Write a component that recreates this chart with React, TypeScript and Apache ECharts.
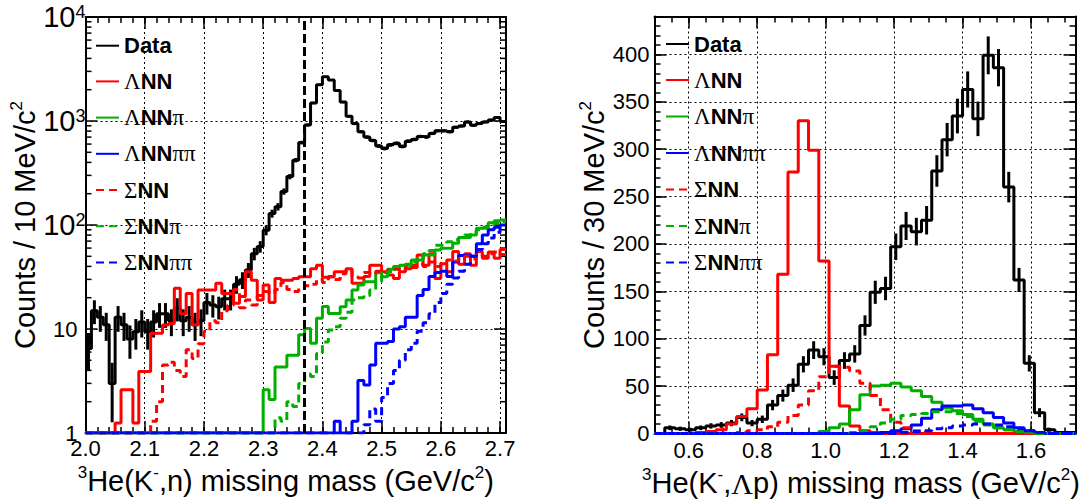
import React, { useEffect, useRef } from "react";
import * as echarts from "echarts";

// ---------- Left panel: 3He(K-,n) missing mass, 10 MeV bins 2.00 - 2.71 ----------
const leftBinStart = 2.0;
const leftBinWidth = 0.01;
const leftXMin = 2.0;
const leftXMax = 2.71;
const thresholdMass = 2.37;

const leftData = [
  6.5, 15, 13, 11, 3, 13, 11, 8, 9.4, 11.7,
  9.4, 11.7, 14, 14, 12, 15.8, 12, 13, 11, 12,
  18, 17, 16.4, 19.5, 19.5, 27, 29.7, 37, 53, 62,
  89, 129, 150, 210, 292, 420, 620, 917, 1490, 2230,
  2660, 2480, 1970, 1520, 1110, 944, 790, 700, 650, 575,
  545, 590, 610, 570, 640, 665, 710, 700, 760, 805,
  805, 790, 870, 895, 980, 910, 944, 980, 1020, 1080,
  990,
];
const leftLNN = [
  0, 0, 0, 0, 0, 1.25, 2.6, 2.6, 1.25, 3.9,
  3.9, 9.1, 9.1, 10.9, 11.3, 24.6, 14, 22, 11, 23.7,
  23.7, 23.7, 27.5, 22, 22, 17.7, 20.5, 35.5, 29.5, 19,
  26.5, 18, 30.6, 29.5, 29.5, 30.6, 31.8, 31.8, 38, 41,
  31.4, 31.8, 35.5, 35.5, 38, 27.5, 27.5, 32, 41, 41,
  35.5, 33, 30.6, 35.5, 38, 41, 51.5, 41, 53, 30.6,
  42.5, 35.5, 55.6, 42, 53, 41, 55.6, 48, 55, 48,
  58,
];
const leftSNN = [
  0, 0, 0, 0, 0, 0, 0, 0, 0, 0,
  0, 1.3, 2.0, 4.5, 4.8, 4.0, 3.5, 6.3, 5.2, 7.2,
  9.5, 12, 11.5, 15, 17, 24, 16, 19, 17, 21,
  23, 22, 24, 28, 24, 23, 25, 26, 27, 30,
  28, 32, 30, 34, 37, 32, 31, 35, 34, 36,
  35, 37, 38, 36, 40, 39, 42, 40, 44, 40,
  43, 46, 45, 48, 50, 47, 52, 50, 53, 55,
  52,
];
const leftLNNpi = [
  0, 0, 0, 0, 0, 0, 0, 0, 0, 0,
  0, 0, 0, 0, 0, 0, 0, 0, 0, 0,
  0, 0, 0, 0, 0, 0, 0, 0, 0, 0,
  2.6, 2.1, 4.3, 4.3, 5.6, 5.6, 8.8, 10.1, 7.3, 12.7,
  16.5, 14.1, 14.1, 16.4, 19, 23.7, 26.5, 28.5, 28.5, 34.8,
  31.8, 37.5, 37.5, 41, 41, 46, 46, 51.5, 51.5, 57.6,
  59.7, 59.7, 66.6, 76, 76, 80, 93, 93, 105, 110,
  112,
];
const leftSNNpi = [
  0, 0, 0, 0, 0, 0, 0, 0, 0, 0,
  0, 0, 0, 0, 0, 0, 0, 0, 0, 0,
  0, 0, 0, 0, 0, 0, 0, 0, 0, 0,
  0, 0, 1.4, 1.3, 2.0, 1.8, 3.0, 3.7, 3.5, 5.8,
  7.5, 9.8, 10.5, 12.7, 14.5, 19, 20, 21, 23.7, 28.5,
  32, 35.5, 40, 41, 42, 44, 48, 53, 57, 64,
  64, 69, 72, 76, 80, 85, 90, 95, 100, 104,
  108,
];
const leftLNNpipi = [
  0, 0, 0, 0, 0, 0, 0, 0, 0, 0,
  0, 0, 0, 0, 0, 0, 0, 0, 0, 0,
  0, 0, 0, 0, 0, 0, 0, 0, 0, 0,
  0, 0, 0, 0, 0, 0, 0, 0, 0, 0,
  0, 0, 1.3, 0, 0, 1.3, 3.2, 2.9, 4.5, 7.3,
  7.3, 7.6, 10, 10.5, 13, 13, 21, 24, 32, 35,
  36, 32, 44, 51, 51, 50, 66, 80, 90, 95,
  100,
];
const leftSNNpipi = [
  0, 0, 0, 0, 0, 0, 0, 0, 0, 0,
  0, 0, 0, 0, 0, 0, 0, 0, 0, 0,
  0, 0, 0, 0, 0, 0, 0, 0, 0, 0,
  0, 0, 0, 0, 0, 0, 0, 0, 0, 0,
  0, 0, 0, 0, 0, 0, 0, 1.2, 1.7, 1.3,
  2.2, 3.0, 4.0, 5.0, 6.3, 7.3, 9.5, 11.5, 14, 18,
  22, 27, 31, 36, 42, 50, 58, 66, 75, 85,
  95,
];

// ---------- Right panel: 3He(K-,Λp) missing mass, 30 MeV bins 0.50 - 1.73 ----------
const rightBinStart = 0.5;
const rightBinWidth = 0.03;
const rightXMin = 0.5;
const rightXMax = 1.73;
const rightYMax = 440;

const rightData = [
  0, 6, 5, 4, 6, 8, 9, 11, 17, 11,
  15, 30, 40, 51, 73, 88, 81, 59, 77, 84,
  114, 149, 153, 197, 219, 213, 225, 277, 310, 335,
  363, 332, 399, 386, 260, 162, 74, 22, 4, 1,
  1,
];
const rightLNN = [
  0, 0, 0, 0, 1, 2, 4, 10, 18, 26,
  46, 83, 168, 276, 330, 299, 182, 71, 29, 8,
  3, 1, 0, 0, 0, 0, 0, 0, 0, 0,
  0, 0, 0, 0, 0, 0, 0, 0, 0, 0,
  0,
];
const rightSNN = [
  0, 0, 0, 0, 0, 0, 0, 0, 1, 3,
  4, 7, 12, 19, 30, 45, 60, 71, 70, 66,
  53, 40, 25, 12, 6, 3, 1, 0, 0, 0,
  0, 0, 0, 0, 0, 0, 0, 0, 0, 0,
  0,
];
const rightLNNpi = [
  0, 0, 0, 0, 0, 0, 0, 0, 0, 0,
  0, 0, 0, 0, 0, 0, 2, 6, 10, 25,
  41, 50, 51, 53, 49, 45, 39, 33, 27, 24,
  20, 15, 10, 6, 4, 2, 1, 0, 0, 0,
  0,
];
const rightSNNpi = [
  0, 0, 0, 0, 0, 0, 0, 0, 0, 0,
  0, 0, 0, 0, 0, 0, 0, 0, 0, 1,
  3, 7, 11, 15, 19, 20, 21, 23, 23, 21,
  18, 13, 9, 6, 4, 2, 1, 0, 0, 0,
  0,
];
const rightLNNpipi = [
  0, 0, 0, 0, 0, 0, 0, 0, 0, 0,
  0, 0, 0, 0, 0, 0, 0, 0, 0, 0,
  0, 0, 1, 3, 5, 9, 16, 25, 29, 29,
  30, 26, 22, 17, 11, 6, 3, 1, 0, 0,
  0,
];
const rightSNNpipi = [
  0, 0, 0, 0, 0, 0, 0, 0, 0, 0,
  0, 0, 0, 0, 0, 0, 0, 0, 0, 0,
  0, 0, 0, 0, 1, 2, 3, 5, 6, 8,
  9, 10, 10, 9, 7, 5, 3, 1, 0, 0,
  0,
];

const legendNames = ["Data", "ΛNN", "ΛNNπ", "ΛNNππ", "ΣNN", "ΣNNπ", "ΣNNππ"];

const RED = "#ff0000";
const GREEN = "#00b000";
const BLUE = "#0000ff";
const DASH = [8, 5];
const SANS = "Liberation Sans";
const SERIF = "Liberation Serif";

function stepPoints(vals: number[], start: number, width: number, floor: number) {
  const pts: number[][] = vals.map((v, i) => [+(start + i * width).toFixed(4), Math.max(v, floor)]);
  pts.push([+(start + vals.length * width).toFixed(4), Math.max(vals[vals.length - 1], floor)]);
  return pts;
}

function errPoints(vals: number[], start: number, width: number) {
  const pts: number[][] = [];
  vals.forEach((v, i) => {
    if (v > 0) pts.push([+(start + (i + 0.5) * width).toFixed(4), v, Math.sqrt(v)]);
  });
  return pts;
}

function legendLabel(name: string) {
  return name
    .split(/([ΛΣπ]+)/)
    .filter((p) => p.length > 0)
    .map((p) => (/[ΛΣπ]/.test(p) ? `{g|${p}}` : `{b|${p}}`))
    .join("");
}

const legendRich = {
  b: { fontFamily: SANS, fontWeight: "bold", fontSize: 22, color: "#000", lineHeight: 24 },
  g: { fontFamily: SERIF, fontSize: 23, color: "#000", lineHeight: 24 },
};

const titleRich = {
  n: { fontFamily: SANS, fontSize: 29, color: "#000", lineHeight: 34 },
  g: { fontFamily: SERIF, fontSize: 30, color: "#000", lineHeight: 34 },
  s: { fontFamily: SANS, fontSize: 17, color: "#000", verticalAlign: "top", lineHeight: 34 },
};

const tickFont = { fontFamily: SANS, fontSize: 22, color: "#000" };
const frameLine = { show: true, onZero: false, lineStyle: { color: "#000", width: 2 } };
const majorTick = { show: true, inside: true, length: 12, lineStyle: { color: "#000", width: 1.5 } };
const minorTickAxis = { show: true, inside: true, length: 6, lineStyle: { color: "#000", width: 1.5 } };
const gridDots = { show: true, lineStyle: { color: "#000", type: [2, 3], width: 1 } };

function histSeries(name: string, vals: number[], start: number, width: number, floor: number,
  color: string, dashed: boolean, xi: number, yi: number) {
  return {
    type: "line",
    name,
    xAxisIndex: xi,
    yAxisIndex: yi,
    data: stepPoints(vals, start, width, floor),
    step: "end",
    symbol: "none",
    showSymbol: false,
    color,
    itemStyle: { color, opacity: 0 },
    lineStyle: { color, width: 3, type: dashed ? DASH : "solid" },
    silent: true,
  };
}

function errSeries(vals: number[], start: number, width: number, floor: number, xi: number, yi: number) {
  return {
    type: "custom",
    name: "dataErr",
    xAxisIndex: xi,
    yAxisIndex: yi,
    silent: true,
    data: errPoints(vals, start, width),
    renderItem: (_p: any, api: any) => {
      const x = api.value(0);
      const v = api.value(1);
      const e = api.value(2);
      const lo = Math.max(v - e, floor);
      const a = api.coord([x, lo]);
      const b = api.coord([x, v + e]);
      return {
        type: "line",
        shape: { x1: a[0], y1: a[1], x2: b[0], y2: b[1] },
        style: { stroke: "#000", lineWidth: 3 },
      };
    },
  };
}

const logMinorTicks: number[] = [];
for (let d = 1; d < 10000; d *= 10) for (let k = 2; k <= 9; k++) logMinorTicks.push(d * k);

export default function App() {
  const ref = useRef<HTMLDivElement>(null);
  useEffect(() => {
    if (!ref.current) return;
    const chart = echarts.init(ref.current, undefined, { renderer: "svg" });

    const xAxis: any[] = [
      // left panel
      {
        type: "value", gridIndex: 0, position: "bottom", min: leftXMin, max: leftXMax, interval: 0.1,
        axisLine: frameLine, axisTick: majorTick, splitLine: gridDots,
        axisLabel: { ...tickFont, margin: 4, showMaxLabel: false, formatter: (v: number) => v.toFixed(1) },
        name: "{s|3}{n|He(K}{s|-}{n|,n) missing mass (GeV/c}{s|2}{n|)}",
        nameLocation: "middle", nameGap: 24,
        nameTextStyle: { verticalAlign: "top", padding: [0, 20, 0, 0], rich: titleRich },
      },
      {
        type: "value", gridIndex: 0, position: "bottom", min: leftXMin, max: leftXMax, interval: 0.02,
        axisLine: { show: false, onZero: false }, axisTick: minorTickAxis, splitLine: { show: false }, axisLabel: { show: false },
      },
      {
        type: "value", gridIndex: 0, position: "top", min: leftXMin, max: leftXMax, interval: 0.1,
        axisLine: frameLine, axisTick: majorTick, splitLine: { show: false }, axisLabel: { show: false },
      },
      {
        type: "value", gridIndex: 0, position: "top", min: leftXMin, max: leftXMax, interval: 0.02,
        axisLine: { show: false, onZero: false }, axisTick: minorTickAxis, splitLine: { show: false }, axisLabel: { show: false },
      },
      // right panel
      {
        type: "value", gridIndex: 1, position: "bottom", min: rightXMin, max: rightXMax, splitNumber: 6,
        axisLine: frameLine, axisTick: majorTick, splitLine: gridDots,
        axisLabel: { ...tickFont, margin: 6, showMinLabel: false, showMaxLabel: false, formatter: (v: number) => v.toFixed(1) },
        name: "{s|3}{n|He(K}{s|-}{n|,}{g|Λ}{n|p) missing mass (GeV/c}{s|2}{n|)}",
        nameLocation: "middle", nameGap: 24,
        nameTextStyle: { verticalAlign: "top", padding: [0, 8, 0, 0], rich: titleRich },
      },
      {
        type: "value", gridIndex: 1, position: "bottom", min: rightXMin, max: rightXMax, interval: 0.05,
        axisLine: { show: false, onZero: false }, axisTick: minorTickAxis, splitLine: { show: false }, axisLabel: { show: false },
      },
      {
        type: "value", gridIndex: 1, position: "top", min: rightXMin, max: rightXMax, splitNumber: 6,
        axisLine: frameLine, axisTick: majorTick, splitLine: { show: false }, axisLabel: { show: false },
      },
      {
        type: "value", gridIndex: 1, position: "top", min: rightXMin, max: rightXMax, interval: 0.05,
        axisLine: { show: false, onZero: false }, axisTick: minorTickAxis, splitLine: { show: false }, axisLabel: { show: false },
      },
    ];

    const yAxis: any[] = [
      {
        type: "log", logBase: 10, gridIndex: 0, position: "left", min: 1, max: 10000,
        axisLine: frameLine, axisTick: majorTick, splitLine: gridDots,
        axisLabel: {
          margin: 0,
          formatter: (v: number) => {
            const e = Math.round(Math.log10(v));
            if (e === 0) return "{n|1}";
            if (e === 1) return "{n|10}";
            return `{b|10}{s|${e}}`;
          },
          rich: {
            n: { ...tickFont, padding: [0, 8, 0, 0] },
            b: { fontFamily: SANS, fontSize: 29, color: "#000" },
            s: { fontFamily: SANS, fontSize: 18, color: "#000", verticalAlign: "top" },
          },
        },
        name: "{n|Counts / 10 MeV/c}{s|2}",
        nameLocation: "middle", nameGap: 41,
        nameTextStyle: { rich: titleRich },
      },
      {
        type: "log", logBase: 10, gridIndex: 0, position: "right", min: 1, max: 10000,
        axisLine: frameLine, axisTick: majorTick, splitLine: { show: false }, axisLabel: { show: false },
      },
      {
        type: "value", gridIndex: 1, position: "left", min: 0, max: rightYMax, interval: 50,
        axisLine: frameLine, axisTick: majorTick, splitLine: gridDots,
        axisLabel: { ...tickFont, margin: 5, showMaxLabel: false },
        name: "{n|Counts / 30 MeV/c}{s|2}",
        nameLocation: "middle", nameGap: 44,
        nameTextStyle: { rich: titleRich },
      },
      {
        type: "value", gridIndex: 1, position: "left", min: 0, max: rightYMax, interval: 10,
        axisLine: { show: false, onZero: false }, axisTick: minorTickAxis, splitLine: { show: false }, axisLabel: { show: false },
      },
      {
        type: "value", gridIndex: 1, position: "right", min: 0, max: rightYMax, interval: 50,
        axisLine: frameLine, axisTick: majorTick, splitLine: { show: false }, axisLabel: { show: false },
      },
      {
        type: "value", gridIndex: 1, position: "right", min: 0, max: rightYMax, interval: 10,
        axisLine: { show: false, onZero: false }, axisTick: minorTickAxis, splitLine: { show: false }, axisLabel: { show: false },
      },
    ];

    const leftDataSeries: any = histSeries("Data", leftData, leftBinStart, leftBinWidth, 1, "#000", false, 0, 0);
    leftDataSeries.markLine = {
      silent: true,
      symbol: ["none", "none"],
      label: { show: false },
      lineStyle: { color: "#000", type: [9, 4], width: 3 },
      data: [{ xAxis: thresholdMass }],
    };

    const series: any[] = [
      {
        type: "custom",
        name: "logMinor",
        xAxisIndex: 0,
        yAxisIndex: 0,
        silent: true,
        data: logMinorTicks.map((v) => [leftXMin, v]),
        renderItem: (_p: any, api: any) => {
          const v = api.value(1);
          const a = api.coord([leftXMin, v]);
          const b = api.coord([leftXMax, v]);
          return {
            type: "group",
            children: [
              { type: "line", shape: { x1: a[0], y1: a[1], x2: a[0] + 6, y2: a[1] }, style: { stroke: "#000", lineWidth: 1.5 } },
              { type: "line", shape: { x1: b[0] - 6, y1: b[1], x2: b[0], y2: b[1] }, style: { stroke: "#000", lineWidth: 1.5 } },
            ],
          };
        },
      },
      leftDataSeries,
      errSeries(leftData, leftBinStart, leftBinWidth, 1, 0, 0),
      histSeries("ΛNN", leftLNN, leftBinStart, leftBinWidth, 1, RED, false, 0, 0),
      histSeries("ΛNNπ", leftLNNpi, leftBinStart, leftBinWidth, 1, GREEN, false, 0, 0),
      histSeries("ΛNNππ", leftLNNpipi, leftBinStart, leftBinWidth, 1, BLUE, false, 0, 0),
      histSeries("ΣNN", leftSNN, leftBinStart, leftBinWidth, 1, RED, true, 0, 0),
      histSeries("ΣNNπ", leftSNNpi, leftBinStart, leftBinWidth, 1, GREEN, true, 0, 0),
      histSeries("ΣNNππ", leftSNNpipi, leftBinStart, leftBinWidth, 1, BLUE, true, 0, 0),

      histSeries("Data", rightData, rightBinStart, rightBinWidth, 0, "#000", false, 4, 2),
      errSeries(rightData, rightBinStart, rightBinWidth, 0, 4, 2),
      histSeries("ΛNN", rightLNN, rightBinStart, rightBinWidth, 0, RED, false, 4, 2),
      histSeries("ΛNNπ", rightLNNpi, rightBinStart, rightBinWidth, 0, GREEN, false, 4, 2),
      histSeries("ΛNNππ", rightLNNpipi, rightBinStart, rightBinWidth, 0, BLUE, false, 4, 2),
      histSeries("ΣNN", rightSNN, rightBinStart, rightBinWidth, 0, RED, true, 4, 2),
      histSeries("ΣNNπ", rightSNNpi, rightBinStart, rightBinWidth, 0, GREEN, true, 4, 2),
      histSeries("ΣNNππ", rightSNNpipi, rightBinStart, rightBinWidth, 0, BLUE, true, 4, 2),
    ];

    const legendBase = {
      data: legendNames,
      orient: "vertical",
      itemWidth: 23,
      itemHeight: 14,
      padding: 0,
      selectedMode: false,
      formatter: legendLabel,
      itemStyle: { opacity: 0 },
      textStyle: { rich: legendRich },
    };

    chart.setOption({
      animation: false,
      backgroundColor: "#fff",
      grid: [
        { left: 85.5, top: 17, width: 420.5, height: 416, containLabel: false, outerBoundsMode: "none" },
        { left: 654.5, top: 16.5, width: 421, height: 417, containLabel: false, outerBoundsMode: "none" },
      ],
      legend: [
        { ...legendBase, left: 95, top: 34.7, itemGap: 13.2 },
        { ...legendBase, left: 665, top: 33, itemGap: 13.5 },
      ],
      xAxis,
      yAxis,
      series,
    });

    return () => chart.dispose();
  }, []);

  return (
    <div
      ref={ref}
      style={{ position: "absolute", left: 0, top: 0, width: 1089, height: 499, background: "#fff" }}
    />
  );
}
